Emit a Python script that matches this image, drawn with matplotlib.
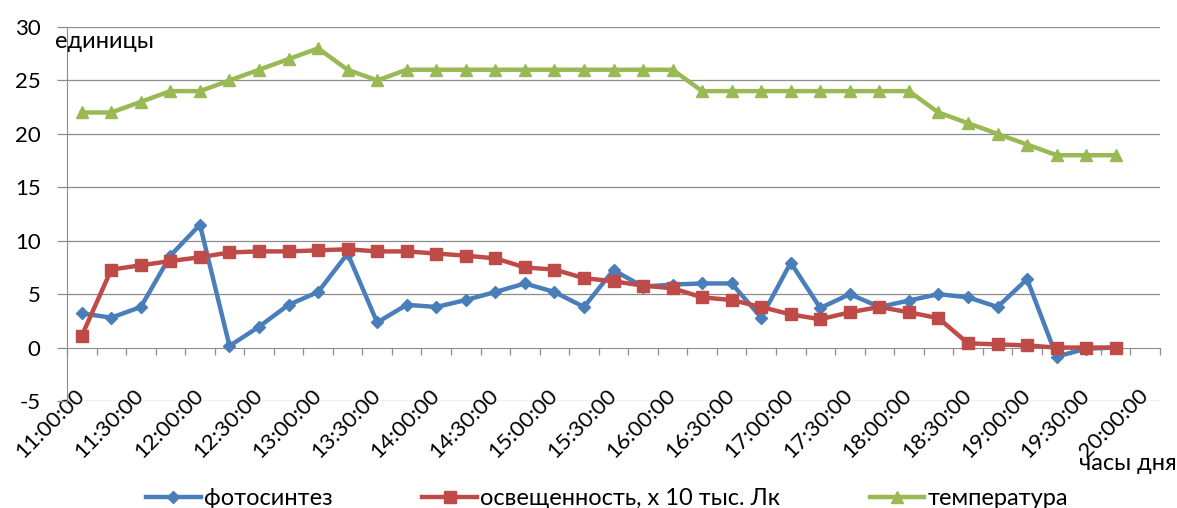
import matplotlib
matplotlib.use("Agg")
import matplotlib.pyplot as plt
import numpy as np

plt.rcParams['font.family'] = ['Lato', 'Open Sans', 'DejaVu Sans']
plt.rcParams['axes.unicode_minus'] = False

# --- данные ---
times = ['11:00:00', '11:15:00', '11:30:00', '11:45:00', '12:00:00', '12:15:00',
         '12:30:00', '12:45:00', '13:00:00', '13:15:00', '13:30:00', '13:45:00',
         '14:00:00', '14:15:00', '14:30:00', '14:45:00', '15:00:00', '15:15:00',
         '15:30:00', '15:45:00', '16:00:00', '16:15:00', '16:30:00', '16:45:00',
         '17:00:00', '17:15:00', '17:30:00', '17:45:00', '18:00:00', '18:15:00',
         '18:30:00', '18:45:00', '19:00:00', '19:15:00', '19:30:00', '19:45:00',
         '20:00:00']

photosynthesis = [3.2, 2.8, 3.8, 8.6, 11.5, 0.15, 1.95, 4.0, 5.2, 8.8, 2.35, 4.0,
                  3.8, 4.45, 5.2, 6.0, 5.2, 3.8, 7.25, 5.7, 5.9, 6.0, 6.0, 2.8,
                  7.95, 3.7, 5.0, 3.8, 4.4, 5.0, 4.7, 3.8, 6.4, -0.85, -0.1, 0.0]

illumination = [1.1, 7.3, 7.7, 8.1, 8.45, 8.9, 9.0, 9.0, 9.1, 9.2, 9.0, 9.0,
                8.8, 8.6, 8.35, 7.5, 7.3, 6.5, 6.2, 5.8, 5.55, 4.7, 4.45, 3.8,
                3.1, 2.65, 3.3, 3.8, 3.3, 2.75, 0.4, 0.3, 0.2, 0.0, 0.0, 0.0]

temperature = [22, 22, 23, 24, 24, 25, 26, 27, 28, 26, 25, 26,
               26, 26, 26, 26, 26, 26, 26, 26, 26, 24, 24, 24,
               24, 24, 24, 24, 24, 22, 21, 20, 19, 18, 18, 18]

labels = ['фотосинтез', 'освещенность, х 10 тыс. Лк', 'температура']

BLUE = '#4A7EBB'
RED = '#BE4B48'
GREEN = '#98B954'
GRID = '#8C8C8C'
FS = 16

fig = plt.figure(figsize=(11.77, 5.08), dpi=100)
ax = fig.add_axes([67 / 1177, 1 - 401 / 508, 1093 / 1177, 374 / 508])

x = np.arange(len(photosynthesis))
l1, = ax.plot(x, photosynthesis, color=BLUE, lw=3.2, marker='D', ms=6.5,
              zorder=3, solid_joinstyle='round')
l2, = ax.plot(x, illumination, color=RED, lw=3.2, marker='s', ms=8.5,
              zorder=4, solid_joinstyle='round')
l3, = ax.plot(x, temperature, color=GREEN, lw=3.2, marker='^', ms=9,
              zorder=5, solid_joinstyle='round')

ax.set_xlim(-0.5, len(times) - 0.5)
ax.set_ylim(-5, 30)
ax.set_yticks(np.arange(-5, 31, 5))

# оси
for s in ['top', 'right']:
    ax.spines[s].set_visible(False)
ax.spines['bottom'].set_position(('data', 0))
ax.spines['bottom'].set_color(GRID)
ax.spines['left'].set_color(GRID)
ax.spines['bottom'].set_zorder(2)

for yv in np.arange(-5, 31, 5):
    if yv != 0:
        ax.axhline(yv, color=GRID, lw=0.9, zorder=1)

ax.set_xticks(np.arange(-0.5, len(times), 1.0))
ax.set_xticklabels([])
ax.tick_params(axis='x', which='major', direction='out', length=5,
               color=GRID, width=0.9)
ax.set_xticks(np.arange(0, len(times), 2), minor=True)
ax.set_xticklabels(times[::2], minor=True, rotation=45, ha='right',
                   va='center', rotation_mode='anchor', fontsize=FS)
ax.tick_params(axis='x', which='minor', length=0, pad=32)
ax.tick_params(axis='y', direction='out', length=7, color=GRID, width=0.9,
               labelsize=FS, pad=12)

fig.text(55 / 1177, 1 - 41 / 508, 'единицы', fontsize=17, ha='left',
         va='center')
fig.text(1177 / 1177, 1 - 463 / 508, 'часы дня', fontsize=17, ha='right',
         va='center')

fig.legend([l1, l2, l3], labels, loc='center', bbox_to_anchor=(0.516, 0.018),
           ncol=3, frameon=False, fontsize=17, handlelength=2.3,
           handletextpad=0.15, columnspacing=3.8, borderaxespad=0)

fig.savefig('out.png', dpi=100)
